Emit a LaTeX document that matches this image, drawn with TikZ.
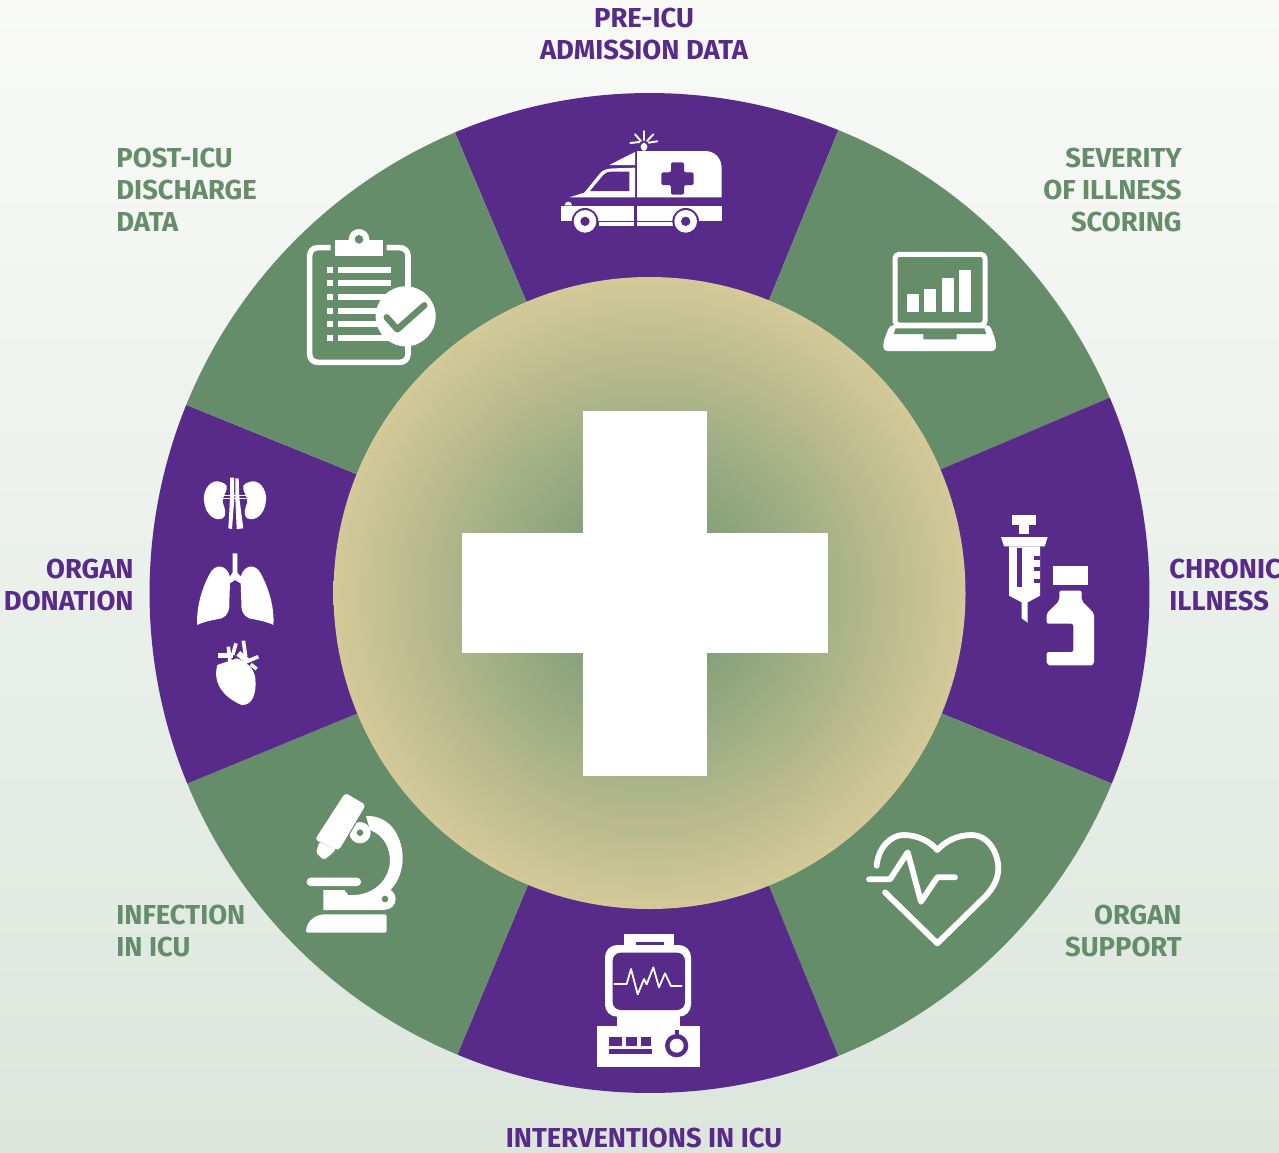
\documentclass[tikz,border=0pt]{standalone}
\usepackage{fontspec}
\setmainfont{Fira Sans}
\definecolor{pur}{HTML}{582A8A}
\definecolor{grn}{HTML}{668D6A}
\definecolor{bgtop}{HTML}{F9FAF8}
\definecolor{bgbot}{HTML}{DCE6DD}
\definecolor{sand}{HTML}{D4C998}
\definecolor{sage}{HTML}{86A17A}
\pgfdeclareradialshading{discglow}{\pgfpoint{0bp}{0bp}}{color(0bp)=(sage);color(6.8bp)=(sage);color(25bp)=(sand);color(50bp)=(sand)}
\tikzset{
  lab/.style={inner sep=0pt,font=\fontsize{13.7}{16}\selectfont\bfseries},
  labp/.style={lab,text=pur},
  labg/.style={lab,text=grn},
  ws/.style={draw=white,fill=none,line cap=round,line join=round},
  zoomed/.style={shift={#1},scale=1/3},
}
\newcommand{\sector}[3]{\fill[#3,shift={(649.5,593)}] (0,0) -- (#1:500) arc[start angle=#1,end angle=#2,radius=500] -- cycle;}
\begin{document}
\begin{tikzpicture}[x=0.5pt,y=-0.5pt]
\useasboundingbox (0,0) rectangle (1279,1152);
\shade[top color=bgtop,bottom color=bgbot] (0,0) rectangle (1279,1152);
% sectors: angles measured with y pointing down, so 270 is the top
\sector{247.1}{292.2}{pur}\sector{292.2}{337}{grn}\sector{337}{382.4}{pur}\sector{22.4}{67.8}{grn}
\sector{67.8}{112.6}{pur}\sector{112.6}{157.6}{grn}\sector{157.6}{202.1}{pur}\sector{202.1}{247.1}{grn}
\shade[shading=discglow] (649.5,593) circle[radius=316];
\fill[white] (583,411) rectangle (707,776);
\fill[white] (462,533) rectangle (828,653);
% labels
\node[labp,align=center,anchor=center] (preicu) at (644,34) {PRE-ICU\\ADMISSION DATA};
\node[labg,align=right,anchor=east] (severity) at (1182,190) {SEVERITY\\OF ILLNESS\\SCORING};
\node[labp,align=left,anchor=west] (chronic) at (1169,585) {CHRONIC\\ILLNESS};
\node[labg,align=right,anchor=east] (support) at (1182,931) {ORGAN\\SUPPORT};
\node[labp,align=center,anchor=center] (interv) at (644,1138) {INTERVENTIONS IN ICU};
\node[labg,align=left,anchor=west] (infection) at (116,931) {INFECTION\\IN ICU};
\node[labp,align=right,anchor=east] (donation) at (134,585) {ORGAN\\DONATION};
\node[labg,align=left,anchor=west] (postdata) at (116,190) {POST-ICU\\DISCHARGE\\DATA};
% ambulance
\begin{scope}[zoomed={(540,120)}]
\fill[white] (291,93) -- (495,93) .. controls (525,93) and (545,115) .. (545,145) -- (545,232) -- (291,232) -- cycle;
\fill[pur,rounded corners=1pt] (393,127) -- (432,127) -- (432,157) -- (461,157) -- (461,195) -- (432,195) -- (432,224) -- (393,224) -- (393,195) -- (364,195) -- (364,157) -- (393,157) -- cycle;
\fill[white] (208,135) -- (285,96) -- (285,135) -- cycle;
\fill[white] (88,232) -- (133,218) -- (180,160) .. controls (190,148) and (205,145) .. (225,145) -- (285,143) -- (285,232) -- cycle;
\fill[pur] (150,213) -- (190,165) .. controls (197,157) and (205,155) .. (215,155) -- (268,155) -- (268,213) -- cycle;
\fill[white] (74,256) arc[start angle=180,end angle=360,radius=11] -- cycle;
\fill[white] (62,258) -- (283,258) -- (283,303) -- (62,303) -- cycle;
\fill[white] (291,258) -- (545,258) -- (545,303) -- (291,303) -- cycle;
\fill[white] (178,306) rectangle (283,318);
\fill[white] (291,306) rectangle (402,318);
\fill[pur] (135,304) circle[radius=40];
\fill[pur] (437,304) circle[radius=40];
\fill[pur] (50,303) rectangle (100,345);
\fill[white] (135,304) circle[radius=34];
\fill[pur] (135,304) circle[radius=14];
\fill[white] (437,304) circle[radius=34];
\fill[pur] (437,304) circle[radius=14];
\fill[white,rounded corners=2pt] (302,93) -- (302,68) -- (322,68) -- (322,93) -- cycle;
\draw[ws,line width=1.3pt] (312,34) -- (312,60);
\draw[ws,line width=1pt] (285,43) -- (303,63) (340,43) -- (321,63) (271,69) -- (298,66) (352,64) -- (326,68);
\end{scope}
% clipboard
\begin{scope}[zoomed={(290,220)}]
\draw[ws,line width=2.8pt,line cap=butt,rounded corners=4pt] (122,83) -- (59,83) -- (59,427) -- (354,427) -- (354,83) -- (290,83);
\fill[white] (135,60) -- (278,60) -- (278,107) -- (135,107) -- cycle;
\fill[white] (207,58) circle[radius=31];
\fill[grn] (207,58) circle[radius=13];
\foreach \y in {150,188,231,272,311,353}{
  \fill[white] (111,\y-9) rectangle (129,\y+9);
  \fill[white] (144,\y-9) rectangle (303,\y+9);
}
\fill[white] (347,289) circle[radius=90];
\draw[line width=3.2pt,draw=grn,line cap=round,line join=round] (290,292) -- (322,328) -- (403,256);
\end{scope}
% laptop
\begin{scope}[zoomed={(875,240)}]
\draw[ws,line width=2.5pt,rounded corners=2pt] (60,43) rectangle (330,255);
\foreach \a/\b/\c in {96/132/162,147/183/147,201/237/113,252/288/90}{\fill[white] (\a,\c) rectangle (\b,216);}
\fill[white,rounded corners=2pt] (45,255) -- (345,255) -- (363,305) -- (363,333) -- (25,333) -- (25,305) -- cycle;
\fill[grn] (62,265) -- (328,265) -- (334,282) -- (245,282) -- (245,298) -- (145,298) -- (145,282) -- (56,282) -- cycle;
\end{scope}
% syringe and bottle
\begin{scope}[zoomed={(990,505)}]
\fill[white] (67,31) rectangle (139,60);
\fill[white] (88,60) rectangle (118,87);
\fill[white] (33,96) -- (173,96) -- (164,124) -- (42,124) -- cycle;
\fill[white] (57,124) -- (150,124) -- (150,272) -- (113,292) -- (113,353) -- (95,340) -- (95,292) -- (57,272) -- cycle;
\fill[pur] (82,128) rectangle (97,245);
\fill[pur] (133,153) rectangle (150,165);
\fill[pur] (133,185) rectangle (150,197);
\fill[pur] (133,222) rectangle (150,235);
\fill[white] (189,183) rectangle (294,240);
\fill[white,rounded corners=1pt] (208,257) -- (275,257) -- (275,287) -- (312,325) -- (312,465) .. controls (312,476) and (306,481) .. (298,481) -- (185,481) .. controls (176,481) and (170,475) .. (170,465) -- (170,441) -- (250,441) -- (250,356) -- (170,356) -- (170,325) -- (208,287) -- cycle;
\end{scope}
% heart with pulse
\begin{scope}[zoomed={(860,820)}]
\draw[ws,line width=2.9pt] (50,137) .. controls (55,80) and (95,45) .. (130,45) .. controls (175,45) and (210,65) .. (232,90) .. controls (255,65) and (290,45) .. (335,45) .. controls (385,45) and (415,100) .. (415,145) .. controls (415,175) and (400,205) .. (375,230) -- (232,370) -- (75,217);
\draw[ws,line width=2.9pt] (27,178) -- (90,178) -- (143,97) -- (183,245) -- (232,172) -- (285,172);
\end{scope}
% monitor
\begin{scope}[zoomed={(585,925)}]
\fill[white] (118,28) rectangle (268,70);
\fill[pur] (152,50) rectangle (238,60);
\fill[white] (95,260) rectangle (285,310);
\fill[white,rounded corners=6pt] (60,60) rectangle (318,275);
\fill[pur,rounded corners=4pt] (83,83) rectangle (300,255);
\fill[white] (37,302) rectangle (345,425);
\fill[pur] (73,335) rectangle (110,362);
\fill[pur] (122,335) rectangle (155,362);
\fill[pur] (167,335) rectangle (199,362);
\fill[pur] (73,373) rectangle (200,388);
\fill[pur] (270,315) rectangle (282,335);
\fill[pur] (275,362) circle[radius=35];
\fill[white] (275,362) circle[radius=21];
\draw[ws,line width=0.9pt] (88,177) -- (125,177) -- (138,132) -- (158,208) -- (177,162) -- (185,178) -- (205,127) -- (222,187) -- (240,145) -- (258,183) -- (290,183);
\end{scope}
% microscope
\begin{scope}[zoomed={(290,780)}]
\fill[white] (175,345) .. controls (240,350) and (295,310) .. (300,245) .. controls (300,200) and (280,165) .. (240,150) -- (228,108) .. controls (310,105) and (340,185) .. (338,240) .. controls (335,295) and (310,325) .. (285,345) -- cycle;
\fill[white] (100,330) -- (163,330) -- (175,345) -- (285,345) -- (285,390) -- (100,390) -- cycle;
\fill[white] (210,158) circle[radius=32];
\fill[grn] (210,158) circle[radius=10];
\fill[white] (285,357) circle[radius=32];
\fill[grn] (285,357) circle[radius=10];
\fill[white,draw=grn,line width=0.5pt,rounded corners=2pt] (165,36) -- (230,74) -- (147,214) -- (72,180) -- cycle;
\fill[white,rounded corners=1pt] (88,186) -- (138,208) -- (120,226) -- (101,240) -- (78,218) -- cycle;
\fill[white,rounded corners=2pt] (50,293) rectangle (213,318);
\fill[white,rounded corners=1pt] (48,458) .. controls (50,420) and (80,403) .. (110,403) -- (290,403) -- (290,458) -- cycle;
\end{scope}
% organs
\begin{scope}[zoomed={(180,465)}]
\fill[white] (125,52) .. controls (95,38) and (68,72) .. (72,107) .. controls (76,150) and (105,170) .. (128,160) .. controls (142,152) and (135,130) .. (128,112) .. controls (125,95) and (146,75) .. (140,62) .. controls (136,56) and (130,54) .. (125,52) -- cycle;
\fill[white] (205,52) .. controls (235,38) and (262,72) .. (258,107) .. controls (254,150) and (225,170) .. (202,160) .. controls (188,152) and (195,130) .. (202,112) .. controls (205,95) and (184,75) .. (190,62) .. controls (194,56) and (200,54) .. (205,52) -- cycle;
\fill[white] (150,38) -- (162,38) -- (163,100) -- (156,192) -- (145,190) -- (150,100) -- cycle;
\fill[white] (166,40) -- (176,40) -- (178,100) -- (190,190) -- (170,192) -- (166,100) -- cycle;
\draw[ws,line width=0.8pt,line cap=butt] (125,92) -- (207,92) (128,100) -- (205,100);
\fill[white] (158,265) -- (158,322) -- (150,335) .. controls (140,298) and (105,295) .. (90,325) .. controls (65,370) and (48,430) .. (52,480) .. controls (70,470) and (100,465) .. (125,460) .. controls (145,452) and (150,430) .. (148,410) -- (150,355) -- (165,345) -- (182,355) -- (184,410) .. controls (182,430) and (187,452) .. (207,460) .. controls (232,465) and (262,470) .. (280,480) .. controls (284,430) and (267,370) .. (242,325) .. controls (227,295) and (192,298) .. (182,335) -- (172,322) -- (172,265) -- cycle;
\fill[white] (112,600) .. controls (100,640) and (115,690) .. (185,720) .. controls (220,722) and (230,680) .. (226,640) .. controls (222,610) and (200,590) .. (170,580) -- cycle;
\draw[ws,line width=2.2pt,line cap=butt] (115,572) -- (158,572);
\draw[ws,line width=1.8pt,line cap=butt] (145,545) -- (150,590) (168,535) -- (158,570) (190,527) -- (197,575) (200,590) -- (235,575) (212,598) -- (230,612);
\draw[ws,line width=3pt,line cap=butt] (175,565) -- (205,590);
\end{scope}
\end{tikzpicture}
\end{document}
